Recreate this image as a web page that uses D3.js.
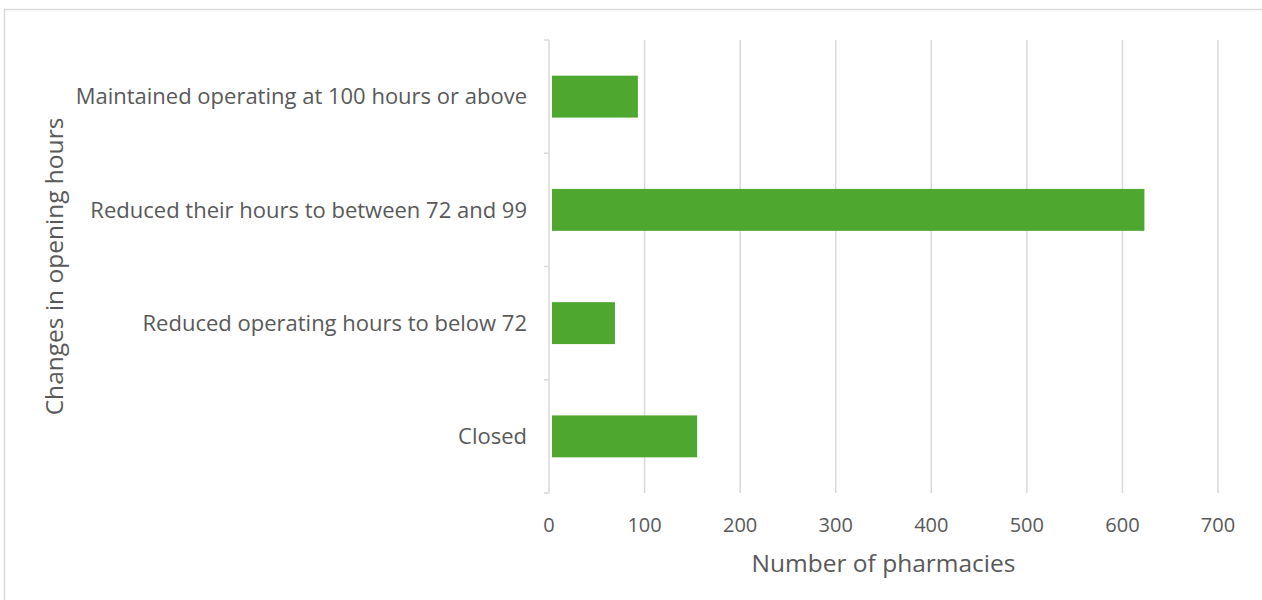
<!DOCTYPE html>
<html>
<head>
<meta charset="utf-8">
<script src="https://cdn.jsdelivr.net/npm/d3@7"></script>
<style>
  html, body { margin: 0; padding: 0; background: #fff; }
  svg text { font-family: "Open Sans", "Liberation Sans", sans-serif; fill: #595959; }
</style>
</head>
<body>
<svg id="chart" width="1262" height="600"></svg>
<script>
// Pharmacy opening-hour changes
const categories = [
  "Maintained operating at 100 hours or above",
  "Reduced their hours to between 72 and 99",
  "Reduced operating hours to below 72",
  "Closed"
];
const pharmacies = [93, 623, 69, 155];
const xTicks = [0, 100, 200, 300, 400, 500, 600, 700];

const svg = d3.select("#chart");
const W = 1262, H = 600;
const margin = { top: 40, right: 44, bottom: 107, left: 549 };
const plotH = H - margin.top - margin.bottom;

// outer frame
svg.append("rect")
  .attr("x", 4.5).attr("y", 9.5)
  .attr("width", W + 10).attr("height", H + 10)
  .attr("fill", "none").attr("stroke", "#d9d9d9").attr("stroke-width", 1.5);

const g = svg.append("g").attr("transform", `translate(${margin.left},${margin.top})`);

const x = d3.scaleLinear().domain([0, 700]).range([0, 669]);
const y = d3.scaleBand().domain(categories).range([0, plotH]).paddingInner(0.63).paddingOuter(0.315);

// vertical gridlines
g.selectAll("line.grid")
  .data(xTicks.slice(1))
  .join("line")
  .attr("class", "grid")
  .attr("x1", d => x(d)).attr("x2", d => x(d))
  .attr("y1", 0).attr("y2", plotH)
  .attr("stroke", "#d9d9d9").attr("stroke-width", 1.5);

// category axis line and tick marks
const bandEdges = d3.range(categories.length + 1).map(i => i * plotH / categories.length);
g.append("line")
  .attr("x1", 0).attr("x2", 0).attr("y1", 0).attr("y2", plotH)
  .attr("stroke", "#d9d9d9").attr("stroke-width", 1.5);
g.selectAll("line.ytick")
  .data(bandEdges)
  .join("line")
  .attr("class", "ytick")
  .attr("x1", -5).attr("x2", 0)
  .attr("y1", d => d).attr("y2", d => d)
  .attr("stroke", "#d9d9d9").attr("stroke-width", 1.5);

// bars
g.selectAll("rect.bar")
  .data(categories)
  .join("rect")
  .attr("class", "bar")
  .attr("x", x(0) + 3)
  .attr("y", d => y(d))
  .attr("width", (d, i) => x(pharmacies[i]) - x(0) - 3)
  .attr("height", y.bandwidth())
  .attr("fill", "#4ea72e");

// category labels
g.selectAll("text.cat")
  .data(categories)
  .join("text")
  .attr("class", "cat")
  .attr("x", -22)
  .attr("y", d => y(d) + y.bandwidth() / 2)
  .attr("dy", "0.35em")
  .attr("text-anchor", "end")
  .attr("font-size", 22)
  .text(d => d);

// value tick labels
g.selectAll("text.xt")
  .data(xTicks)
  .join("text")
  .attr("class", "xt")
  .attr("x", d => x(d))
  .attr("y", plotH + 39)
  .attr("text-anchor", "middle")
  .attr("font-size", 20)
  .text(d => d);

// axis titles
svg.append("text")
  .attr("x", margin.left + x(350))
  .attr("y", 572)
  .attr("text-anchor", "middle")
  .attr("font-size", 24.5)
  .text("Number of pharmacies");

svg.append("text")
  .attr("transform", `translate(63,${margin.top + plotH / 2}) rotate(-90)`)
  .attr("text-anchor", "middle")
  .attr("font-size", 24.5)
  .text("Changes in opening hours");
</script>
</body>
</html>
